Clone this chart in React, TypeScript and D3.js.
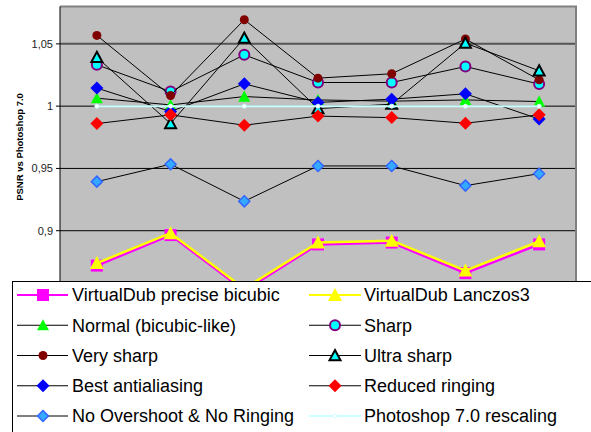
import React from "react";
import * as d3 from "d3";

// x categories (labels are hidden under the legend in the original)
const categories = ["1", "2", "3", "4", "5", "6", "7"];
const yTicks = [0.9, 0.95, 1, 1.05];
const yTickLabels = ["0,9", "0,95", "1", "1,05"];

const vdubBicubic = [0.872, 0.8965, 0.852, 0.889, 0.8905, 0.866, 0.889];
const vdubLanczos = [0.874, 0.898, 0.8535, 0.8905, 0.892, 0.868, 0.8915];
const normal = [1.0064, 1.001, 1.0077, 1.005, 1.004, 1.005, 1.0037];
const sharp = [1.0332, 1.0117, 1.0412, 1.019, 1.019, 1.0318, 1.0177];
const verySharp = [1.0568, 1.0085, 1.0694, 1.0225, 1.026, 1.0539, 1.0211];
const ultraSharp = [1.0392, 0.986, 1.0547, 0.998, 1.0016, 1.0506, 1.0284];
const bestAntialias = [1.0145, 0.9957, 1.0179, 1.003, 1.0056, 1.0099, 0.9896];
const reducedRinging = [0.986, 0.993, 0.9847, 0.992, 0.9908, 0.9863, 0.993];
const noOvershoot = [0.9394, 0.9534, 0.9236, 0.952, 0.952, 0.9362, 0.9458];
const photoshop = [1, 1, 1, 1, 1, 1, 1];

type MarkerKind = "square" | "triangle" | "circle" | "diamond" | "dot";

type Series = {
    name: string;
    values: number[];
    line: string;
    lineWidth: number;
    marker: MarkerKind;
    fill: string;
    stroke: string;
    strokeWidth: number;
    size: number;
};

const series: Series[] = [
    { name: "VirtualDub precise bicubic", values: vdubBicubic, line: "#ff00ff", lineWidth: 2.5, marker: "square", fill: "#ff00ff", stroke: "#ff00ff", strokeWidth: 0, size: 12 },
    { name: "VirtualDub Lanczos3", values: vdubLanczos, line: "#ffff00", lineWidth: 2.5, marker: "triangle", fill: "#ffff00", stroke: "#ffff00", strokeWidth: 0, size: 14 },
    { name: "Normal (bicubic-like)", values: normal, line: "#000", lineWidth: 1, marker: "triangle", fill: "#00ff00", stroke: "#00ff00", strokeWidth: 0, size: 12 },
    { name: "Sharp", values: sharp, line: "#000", lineWidth: 1, marker: "circle", fill: "#00ffff", stroke: "#800080", strokeWidth: 2, size: 10 },
    { name: "Very sharp", values: verySharp, line: "#000", lineWidth: 1, marker: "circle", fill: "#800000", stroke: "#800000", strokeWidth: 0, size: 9 },
    { name: "Ultra sharp", values: ultraSharp, line: "#000", lineWidth: 1, marker: "triangle", fill: "#00ffff", stroke: "#000", strokeWidth: 2, size: 11 },
    { name: "Best antialiasing", values: bestAntialias, line: "#000", lineWidth: 1, marker: "diamond", fill: "#0000ff", stroke: "#0000ff", strokeWidth: 0, size: 13 },
    { name: "Reduced ringing", values: reducedRinging, line: "#000", lineWidth: 1, marker: "diamond", fill: "#ff0000", stroke: "#ff0000", strokeWidth: 0, size: 13 },
    { name: "No Overshoot & No Ringing", values: noOvershoot, line: "#000", lineWidth: 1, marker: "diamond", fill: "#33aaff", stroke: "#3366ff", strokeWidth: 1.5, size: 11 },
    { name: "Photoshop 7.0 rescaling", values: photoshop, line: "#ccffff", lineWidth: 2, marker: "dot", fill: "#ffffff", stroke: "#ccffff", strokeWidth: 1, size: 4 },
];

const W = 591;
const H = 432;
const plot = { left: 60, right: 576, top: 6.5, bottom: 293 };

const Marker = ({ s, x, y }: { s: Series; x: number; y: number }) => {
    const h = s.size / 2;
    const common = { fill: s.fill, stroke: s.strokeWidth ? s.stroke : "none", strokeWidth: s.strokeWidth };
    switch (s.marker) {
        case "square":
            return <rect x={x - h} y={y - h} width={s.size} height={s.size} {...common} />;
        case "triangle":
            return <path d={`M${x},${y - h} L${x + h},${y + h * 0.85} L${x - h},${y + h * 0.85}Z`} {...common} />;
        case "circle":
            return <circle cx={x} cy={y} r={h} {...common} />;
        case "diamond":
            return <path d={`M${x},${y - h} L${x + h},${y} L${x},${y + h} L${x - h},${y}Z`} {...common} />;
        default:
            return <circle cx={x} cy={y} r={h} {...common} />;
    }
};

export default function App() {
    const x = d3.scaleBand().domain(categories).range([plot.left, plot.right]);
    const y = d3.scaleLinear().domain([0.85, 1.08]).range([plot.bottom, plot.top]);
    const cx = (i: number) => (x(categories[i]) as number) + x.bandwidth() / 2;

    const line = d3
        .line<number>()
        .x((_, i) => cx(i))
        .y((d) => y(d));

    const legendRows = [295, 325.25, 355.5, 385.75, 416];
    const legendCols = [
        { x1: 17, x2: 68, mx: 43, tx: 72 },
        { x1: 309, x2: 361, mx: 335, tx: 364 },
    ];

    return (
        <svg
            width={W}
            height={H}
            style={{ position: "absolute", left: 0, top: 0, background: "#fff" }}
            fontFamily="'Liberation Sans', Arial, sans-serif"
        >
            {/* plot area */}
            <rect x={plot.left} y={plot.top} width={plot.right - plot.left} height={plot.bottom - plot.top} fill="#c0c0c0" />
            {yTicks.map((t, i) => (
                <line
                    key={t}
                    x1={plot.left}
                    x2={plot.right}
                    y1={y(t)}
                    y2={y(t)}
                    stroke={t === 1.05 ? "#555" : "#000"}
                    strokeWidth={t === 1.05 ? 2 : 1}
                />
            ))}
            <line x1={plot.left} x2={plot.right + 1} y1={plot.top} y2={plot.top} stroke="#808080" strokeWidth={2} />
            <line x1={plot.right} x2={plot.right} y1={plot.top} y2={plot.bottom} stroke="#808080" strokeWidth={2} />
            <line x1={plot.left} x2={plot.left} y1={plot.top} y2={plot.bottom} stroke="#000" strokeWidth={1} />

            {/* y axis ticks */}
            {yTicks.map((t, i) => (
                <g key={"t" + t}>
                    <line x1={plot.left - 4} x2={plot.left} y1={y(t)} y2={y(t)} stroke="#000" />
                    <text x={plot.left - 7} y={y(t)} dy="0.35em" textAnchor="end" fontSize={11} fill="#222">
                        {yTickLabels[i]}
                    </text>
                </g>
            ))}
            <text
                transform={`translate(23,147) rotate(-90)`}
                textAnchor="middle"
                fontSize={9.5}
                fontWeight="bold"
                fill="#000"
            >
                PSNR vs Photoshop 7.0
            </text>

            {/* series */}
            {series.map((s) => (
                <g key={s.name}>
                    <path d={line(s.values) || ""} fill="none" stroke={s.line} strokeWidth={s.lineWidth} strokeLinejoin="round" />
                    {s.values.map((v, i) => (
                        <Marker key={i} s={s} x={cx(i)} y={y(v)} />
                    ))}
                </g>
            ))}

            {/* legend */}
            <rect x={12.5} y={281.5} width={600} height={200} fill="#fff" stroke="#000" strokeWidth={1} />
            {series.map((s, i) => {
                const row = Math.floor(i / 2);
                const col = legendCols[i % 2];
                const ly = legendRows[row];
                return (
                    <g key={"lg" + s.name}>
                        <line x1={col.x1} x2={col.x2} y1={ly} y2={ly} stroke={s.line} strokeWidth={s.lineWidth > 1 ? 2 : 1} />
                        <Marker s={s} x={col.mx} y={ly} />
                        <text x={col.tx} y={ly} dy="0.35em" fontSize={18} fill="#000">
                            {s.name}
                        </text>
                    </g>
                );
            })}
        </svg>
    );
}
